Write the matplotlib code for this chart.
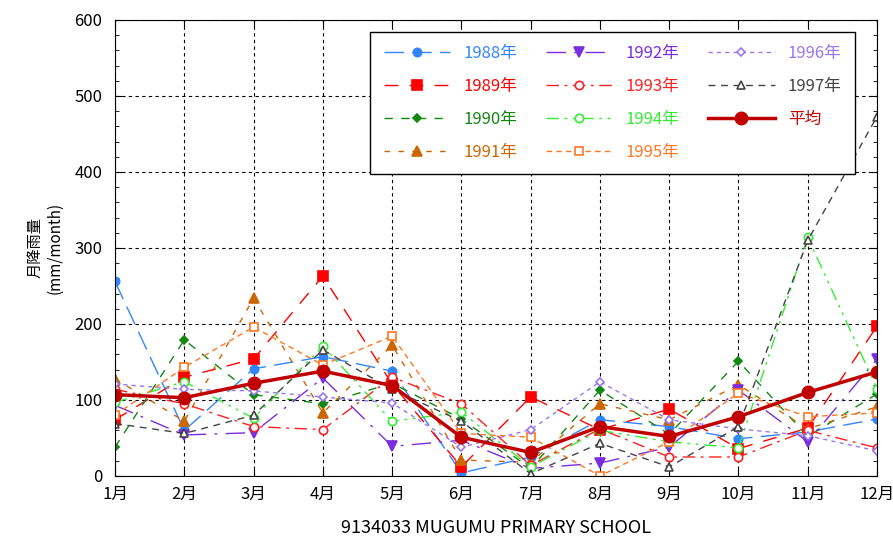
import matplotlib
matplotlib.use('Agg')
import matplotlib.pyplot as plt
from matplotlib.ticker import MultipleLocator

plt.rcParams['font.family'] = ['Noto Sans CJK JP', 'DejaVu Sans']

# Data (monthly rainfall, mm/month)
months = list(range(1, 13))
month_labels = [f'{m}月' for m in months]

r1988 = [256, 60, 141, 157, 138, 4, 25, 74, 65, 49, 58, 75]
r1989 = [74, 130, 154, 263, 121, 12, 104, 61, 88, 36, 63, 197]
r1990 = [38, 179, 107, 95, 122, 75, 10, 113, 55, 151, 52, 108]
r1991 = [128, 72, 234, 83, 172, 21, 18, 95, 74, 120, 62, 91]
r1992 = [93, 54, 57, 129, 39, 47, 10, 17, 38, 113, 45, 154]
r1993 = [114, 95, 65, 61, 130, 95, 14, 62, 25, 25, 60, 37]
r1994 = [97, 124, 76, 171, 72, 84, 12, 60, 45, 37, 314, 115]
r1995 = [80, 143, 196, 146, 184, 56, 51, 0, 45, 109, 78, 83]
r1996 = [121, 114, 112, 104, 96, 38, 61, 124, 74, 62, 53, 33]
r1997 = [69, 56, 80, 166, 114, 72, 3, 43, 12, 65, 310, 473]
average = [107, 103, 122, 138, 119, 51, 31, 65, 52, 78, 110, 137]

series = [
    ('1988年', r1988, '#3385ff', 'o', (0, (14, 6)), True, 6),
    ('1989年', r1989, '#ff0000', 's', (0, (10, 8)), True, 7),
    ('1990年', r1990, '#118811', 'D', (0, (6, 6)), True, 4.5),
    ('1991年', r1991, '#cc6600', '^', (0, (4, 6)), True, 6.5),
    ('1992年', r1992, '#7a2ee0', 'v', (0, (14, 6, 2, 6)), True, 6.5),
    ('1993年', r1993, '#ff2020', 'o', (0, (9, 4, 2, 4)), False, 6),
    ('1994年', r1994, '#33ee33', 'o', (0, (9, 4, 2, 4, 2, 4)), False, 6),
    ('1995年', r1995, '#ff7722', 's', (0, (4, 3)), False, 6),
    ('1996年', r1996, '#9977ee', 'D', (0, (3, 3)), False, 4),
    ('1997年', r1997, '#444444', '^', (0, (5, 4)), False, 6),
]

fig = plt.figure(figsize=(8.93, 5.43), dpi=100)
ax = fig.add_axes([0.1288, 0.1234, 0.8533, 0.8398])

for label, vals, color, marker, ls, filled, ms in series:
    ax.plot(months, vals, color=color, linestyle=ls, linewidth=1,
            marker=marker, markersize=ms,
            markerfacecolor=color if filled else 'white',
            markeredgecolor=color, markeredgewidth=1.2, label=label)

ax.plot(months, average, color='#c00000', linewidth=2.5, marker='o',
        markersize=9, label='平均')

ax.set_xlim(1, 12)
ax.set_ylim(0, 600)
ax.set_xticks(months)
ax.set_xticklabels(month_labels)
ax.yaxis.set_major_locator(MultipleLocator(100))
ax.yaxis.set_minor_locator(MultipleLocator(20))
ax.tick_params(axis='both', which='both', direction='in', top=True, right=True,
               labelsize=12)
ax.tick_params(which='major', length=5)
ax.tick_params(which='minor', length=3)
ax.tick_params(axis='x', pad=7)
ax.tick_params(axis='y', pad=9)
ax.grid(True, which='major', color='black', linestyle=(0, (3, 3)), linewidth=0.8)

ax.set_ylabel('月降雨量\n(mm/month)', fontsize=11, labelpad=8)
ax.set_xlabel('9134033 MUGUMU PRIMARY SCHOOL', fontsize=13, labelpad=12)

leg = ax.legend(ncol=3, loc='upper right', bbox_to_anchor=(0.971, 0.974),
                borderaxespad=0, fontsize=12, handlelength=4, fancybox=False,
                framealpha=1, edgecolor='black', columnspacing=1.7,
                labelspacing=0.95, borderpad=0.8)
leg.get_frame().set_linewidth(1)
for text, line in zip(leg.get_texts(), leg.get_lines()):
    text.set_color(line.get_color())

fig.savefig('out.png', dpi=100)
